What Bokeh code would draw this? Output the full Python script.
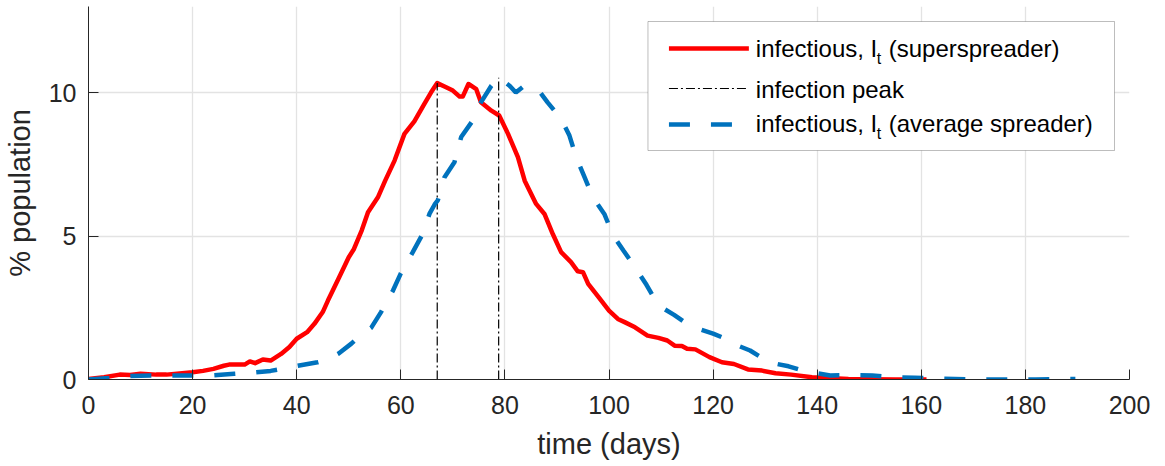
import numpy as np
from bokeh.plotting import figure
from bokeh.models import Range1d, FixedTicker, BoxAnnotation, Label, ColumnDataSource
from bokeh.embed import file_html
from bokeh.resources import INLINE

# ---- data: infectious share of the population (%) over time (days) ----
super_days = [0, 3, 6, 8, 10, 13, 15, 18, 20, 22, 24, 26, 27, 30, 31, 32, 33.5, 35,
              37, 38.6, 40, 42, 43.4, 45, 46, 48, 50, 51, 52.5, 53.7, 55.6, 57,
              58.8, 60.7, 62.6, 64.5, 65.8, 67, 68.4, 70, 71.3, 71.9, 73, 74.5,
              75.4, 77.4, 78.9, 80.6, 82.5, 83.8, 86, 87.6, 89.2, 90.8, 92.7, 94,
              95, 96, 98, 100, 101.7, 103, 105, 107.4, 109.5, 111.2, 112.6, 114,
              115, 116.6, 119.3, 121.7, 124, 126.7, 129.4, 132, 135, 139, 142,
              146, 150, 155, 161]
super_pct = [0.02, 0.08, 0.17, 0.16, 0.2, 0.17, 0.17, 0.22, 0.25, 0.3, 0.37, 0.48,
             0.52, 0.52, 0.63, 0.57, 0.70, 0.66, 0.89, 1.13, 1.42, 1.65, 1.94, 2.35,
             2.75, 3.5, 4.26, 4.55, 5.2, 5.83, 6.35, 6.93, 7.63, 8.56, 9.0, 9.6,
             10.0, 10.33, 10.21, 10.07, 9.86, 9.86, 10.3, 10.12, 9.66, 9.37, 9.2,
             8.56, 7.75, 6.93, 6.12, 5.77, 5.07, 4.44, 4.09, 3.77, 3.74, 3.33, 2.87,
             2.4, 2.11, 2.0, 1.82, 1.53, 1.45, 1.36, 1.18, 1.17, 1.07, 1.05, 0.78,
             0.6, 0.54, 0.35, 0.31, 0.22, 0.17, 0.08, 0.05, 0.02, 0.01, 0.0, 0.0]

avg_days = [0, 4, 8, 12, 16, 20, 24, 28, 32, 35, 38, 40.5, 44, 46, 48, 50.5, 52,
            54.3, 56.2, 58.5, 60, 62.3, 64.2, 65.5, 66.5, 67.1, 68.4, 70.3, 71.6,
            73.8, 75.4, 77.4, 78.8, 80.9, 82.1, 83.4, 85, 86.3, 88.2, 90.8, 92.4,
            93.7, 95.3, 96.9, 99.1, 100.8, 102.8, 105.2, 107.2, 109.5, 112.5,
            114.5, 116.3, 120, 122, 123.7, 127.1, 129, 130.7, 134.5, 136.5, 138.8,
            142.5, 146.9, 150.6, 155, 158.7, 164, 170, 176, 182, 187.5, 189.6]
avg_pct = [0.0, 0.05, 0.12, 0.14, 0.14, 0.14, 0.15, 0.2, 0.25, 0.3, 0.4, 0.49, 0.6,
           0.7, 0.9, 1.25, 1.5, 1.8, 2.35, 3.1, 3.7, 4.44, 5.07, 5.77, 6.1, 6.24,
           7.05, 7.57, 8.45, 9.02, 9.66, 10.24, 10.52, 10.24, 10.0, 10.19, 10.2,
           10.12, 9.66, 9.08, 8.5, 7.75, 7.05, 6.35, 5.77, 5.02, 4.49, 3.86, 3.3,
           2.58, 2.25, 2.0, 1.82, 1.6, 1.45, 1.26, 1.01, 0.8, 0.6, 0.46, 0.35, 0.25,
           0.14, 0.15, 0.14, 0.08, 0.06, 0.03, 0.0, 0.0, 0.0, 0.02, 0.02]

x_ticks = [0, 20, 40, 60, 80, 100, 120, 140, 160, 180, 200]
y_ticks = [0, 5, 10]

x_title = "time (days)"
y_title = "% population"
label_super = "infectious, I"
label_super_tail = "(superspreader)"
label_peak = "infection peak"
label_avg = "infectious, I"
label_avg_tail = "(average spreader)"
label_sub = "t"

# ---- styling ----
FONT = "Liberation Sans"
RED = "#FF0000"
BLUE = "#0072BD"
INK = "#262626"

W, H = 1165, 466
FL, FR, FT, FB = 87, 1129, 6, 379          # frame edges in canvas pixels
X_MIN, X_MAX, Y_MIN, Y_MAX = 0, 200, 0, 13


def sx(px):
    return X_MIN + (px - FL) / (FR - FL) * (X_MAX - X_MIN)


def sy(py):
    return Y_MIN + (FB - py) / (FB - FT) * (Y_MAX - Y_MIN)


p = figure(width=W, height=H, x_range=Range1d(X_MIN, X_MAX), y_range=Range1d(Y_MIN, Y_MAX),
           output_backend="svg", toolbar_location=None,
           min_border_left=FL, min_border_right=W - FR, min_border_top=FT,
           min_border_bottom=H - FB)
p.outline_line_color = None
p.background_fill_color = "white"
p.border_fill_color = "white"

for ax in (p.xaxis[0], p.yaxis[0]):
    ax.axis_line_color = INK
    ax.axis_line_width = 1
    ax.major_tick_line_color = INK
    ax.major_tick_in = 10
    ax.major_tick_out = 0
    ax.minor_tick_line_color = None
    ax.major_label_text_font = FONT
    ax.major_label_text_font_size = "25px"
    ax.major_label_text_color = INK
    ax.axis_label_text_font = FONT
    ax.axis_label_text_font_size = "29px"
    ax.axis_label_text_font_style = "normal"
    ax.axis_label_text_color = INK

p.xaxis.ticker = FixedTicker(ticks=x_ticks)
p.yaxis.ticker = FixedTicker(ticks=y_ticks)
p.xaxis.axis_label = x_title
p.yaxis.axis_label = y_title
p.xaxis.major_label_standoff = 16
p.yaxis.major_label_standoff = 12
p.xaxis.axis_label_standoff = 11
p.yaxis.axis_label_standoff = 10

p.xgrid.grid_line_color = "#E3E3E3"
p.ygrid.grid_line_color = "#E3E3E3"
p.xgrid.grid_line_width = 1.3
p.ygrid.grid_line_width = 1.3

# ---- curves ----
p.line(super_days, super_pct, line_color=RED, line_width=4.5, line_join="round")

# peak markers from each series' maximum
i_s = int(np.argmax(super_pct))
i_a = int(np.argmax(avg_pct))
peaks = ColumnDataSource(dict(x=[super_days[i_s], avg_days[i_a]],
                              y0=[0, 0],
                              y1=[super_pct[i_s], avg_pct[i_a]]))
p.segment(x0="x", y0="y0", x1="x", y1="y1", source=peaks,
          line_color="black", line_width=1.2, line_dash="9 3 2 3")

p.line(avg_days, avg_pct, line_color=BLUE, line_width=4.5, line_dash="21 21")

# ---- legend (drawn by hand to allow the subscript) ----
box = BoxAnnotation(left=sx(647), right=sx(1114), top=sy(21), bottom=sy(150),
                    fill_color="white", fill_alpha=1, line_color=INK, line_width=1,
                    level="annotation")
p.add_layout(box)

rows_line_y = [48, 88, 124]
rows_base_y = [48, 88.5, 123]
LX0, LX1 = 668, 748
TX, SUBX, RESTX = 755, 876, 888

p.line([sx(LX0), sx(LX1)], [sy(rows_line_y[0])] * 2, line_color=RED, line_width=4.5,
       level="overlay")
p.line([sx(LX0), sx(LX1)], [sy(rows_line_y[1])] * 2, line_color="black", line_width=1.2,
       line_dash="9 3 2 3", level="overlay")
p.line([sx(LX0), sx(LX1)], [sy(rows_line_y[2])] * 2, line_color=BLUE, line_width=4.5,
       line_dash="21 21", level="overlay")


def add_text(px, py, text, size):
    p.add_layout(Label(x=sx(px), y=sy(py), text=text, text_font=FONT,
                       text_font_size=size, text_color="black", text_align="left",
                       text_baseline="alphabetic", level="overlay"))


add_text(TX, rows_base_y[0], label_super, "24px")
add_text(SUBX, rows_base_y[0] + 10, label_sub, "16px")
add_text(RESTX, rows_base_y[0], label_super_tail, "24px")
add_text(TX, rows_base_y[1], label_peak, "24px")
add_text(TX, rows_base_y[2], label_avg, "24px")
add_text(SUBX, rows_base_y[2] + 10, label_sub, "16px")
add_text(RESTX, rows_base_y[2], label_avg_tail, "24px")

open("out.html", "w").write(file_html(p, INLINE))
